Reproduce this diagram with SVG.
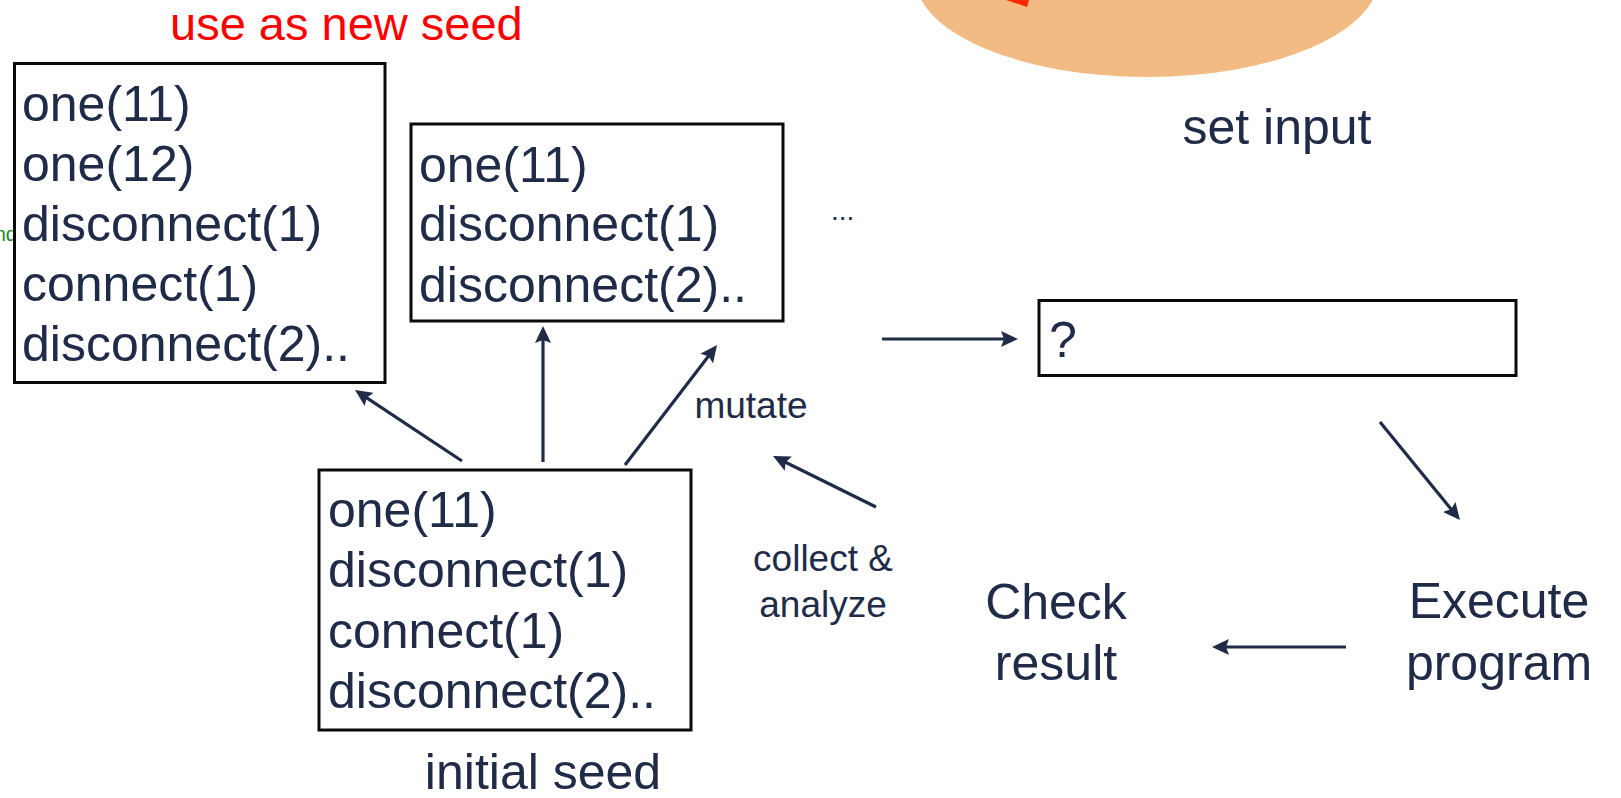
<svg xmlns="http://www.w3.org/2000/svg" width="1621" height="798" viewBox="0 0 1621 798">
  <style>
    text { font-family: "Liberation Sans", Arial, Helvetica, sans-serif; fill: #202b48; }
    .code { font-size: 50px; }
    .label { font-size: 50px; }
    .small { font-size: 37px; }
    .box { fill: #ffffff; stroke: #0a0a0a; stroke-width: 3; }
    .conn { stroke: #202b48; stroke-width: 3.2; fill: none; marker-end: url(#arrow); }
  </style>
  <defs>
    <marker id="arrow" markerUnits="userSpaceOnUse" markerWidth="17" markerHeight="16" viewBox="0 0 17 16" refX="11" refY="8" orient="auto">
      <path d="M0,0 L17,8 L0,16 L3,8 Z" fill="#202b48"/>
    </marker>
  </defs>

  <!-- background -->
  <rect x="0" y="0" width="1621" height="798" fill="#ffffff"/>

  <!-- input pool blob at the top edge -->
  <g id="input-pool">
    <ellipse cx="1147" cy="-23" rx="232" ry="100" fill="#f2bb84"/>
    <polygon points="1006,0 1029,0 1027,7" fill="#ff2a00"/>
  </g>

  <!-- green annotation peeking out behind the first seed box -->
  <text x="17" y="241" text-anchor="end" style="font-size:20px; fill:#1c8a2a;">nd</text>

  <g id="label-new-seed">
    <text x="170" y="40" style="font-size:47px; fill:#ff0000;">use as new seed</text>
  </g>

  <g id="seed-a">
    <rect class="box" x="14.5" y="63.5" width="370.5" height="319"/>
    <text class="code" x="22" y="121">one(11)</text>
    <text class="code" x="22" y="181">one(12)</text>
    <text class="code" x="22" y="241">disconnect(1)</text>
    <text class="code" x="22" y="301">connect(1)</text>
    <text class="code" x="22" y="361">disconnect(2)..</text>
  </g>

  <g id="seed-b">
    <rect class="box" x="411" y="124" width="372" height="197"/>
    <text class="code" x="419" y="182">one(11)</text>
    <text class="code" x="419" y="241">disconnect(1)</text>
    <text class="code" x="419" y="302">disconnect(2)..</text>
  </g>

  <g id="more">
    <text x="831" y="220" style="font-size:28px;">...</text>
  </g>

  <g id="initial-seed">
    <rect class="box" x="319" y="470" width="372" height="260"/>
    <text class="code" x="328" y="527">one(11)</text>
    <text class="code" x="328" y="587">disconnect(1)</text>
    <text class="code" x="328" y="648">connect(1)</text>
    <text class="code" x="328" y="708">disconnect(2)..</text>
    <text class="label" x="543" y="789" text-anchor="middle">initial seed</text>
  </g>

  <g id="set-input">
    <text class="label" x="1277" y="144" text-anchor="middle">set input</text>
    <rect class="box" x="1039" y="300.5" width="477" height="75"/>
    <text class="code" x="1049" y="357">?</text>
  </g>

  <g id="execute-program">
    <text class="label" x="1499" y="618" text-anchor="middle">Execute</text>
    <text class="label" x="1499" y="680" text-anchor="middle">program</text>
  </g>

  <g id="check-result">
    <text class="label" x="1056" y="619" text-anchor="middle">Check</text>
    <text class="label" x="1056" y="680" text-anchor="middle">result</text>
  </g>

  <g id="edge-labels">
    <text class="small" x="751" y="418" text-anchor="middle">mutate</text>
    <text class="small" x="823" y="571" text-anchor="middle">collect &amp;</text>
    <text class="small" x="823" y="617" text-anchor="middle">analyze</text>
  </g>

  <g id="connectors">
    <line class="conn" x1="462" y1="461" x2="360" y2="393.3"/>
    <line class="conn" x1="543" y1="462" x2="543" y2="332"/>
    <line class="conn" x1="625" y1="465" x2="713.4" y2="349.8"/>
    <line class="conn" x1="876" y1="507" x2="778.4" y2="458.7"/>
    <line class="conn" x1="882" y1="339" x2="1012" y2="339"/>
    <line class="conn" x1="1380" y1="422" x2="1456.2" y2="515.4"/>
    <line class="conn" x1="1346" y1="647" x2="1218" y2="647"/>
  </g>
</svg>
